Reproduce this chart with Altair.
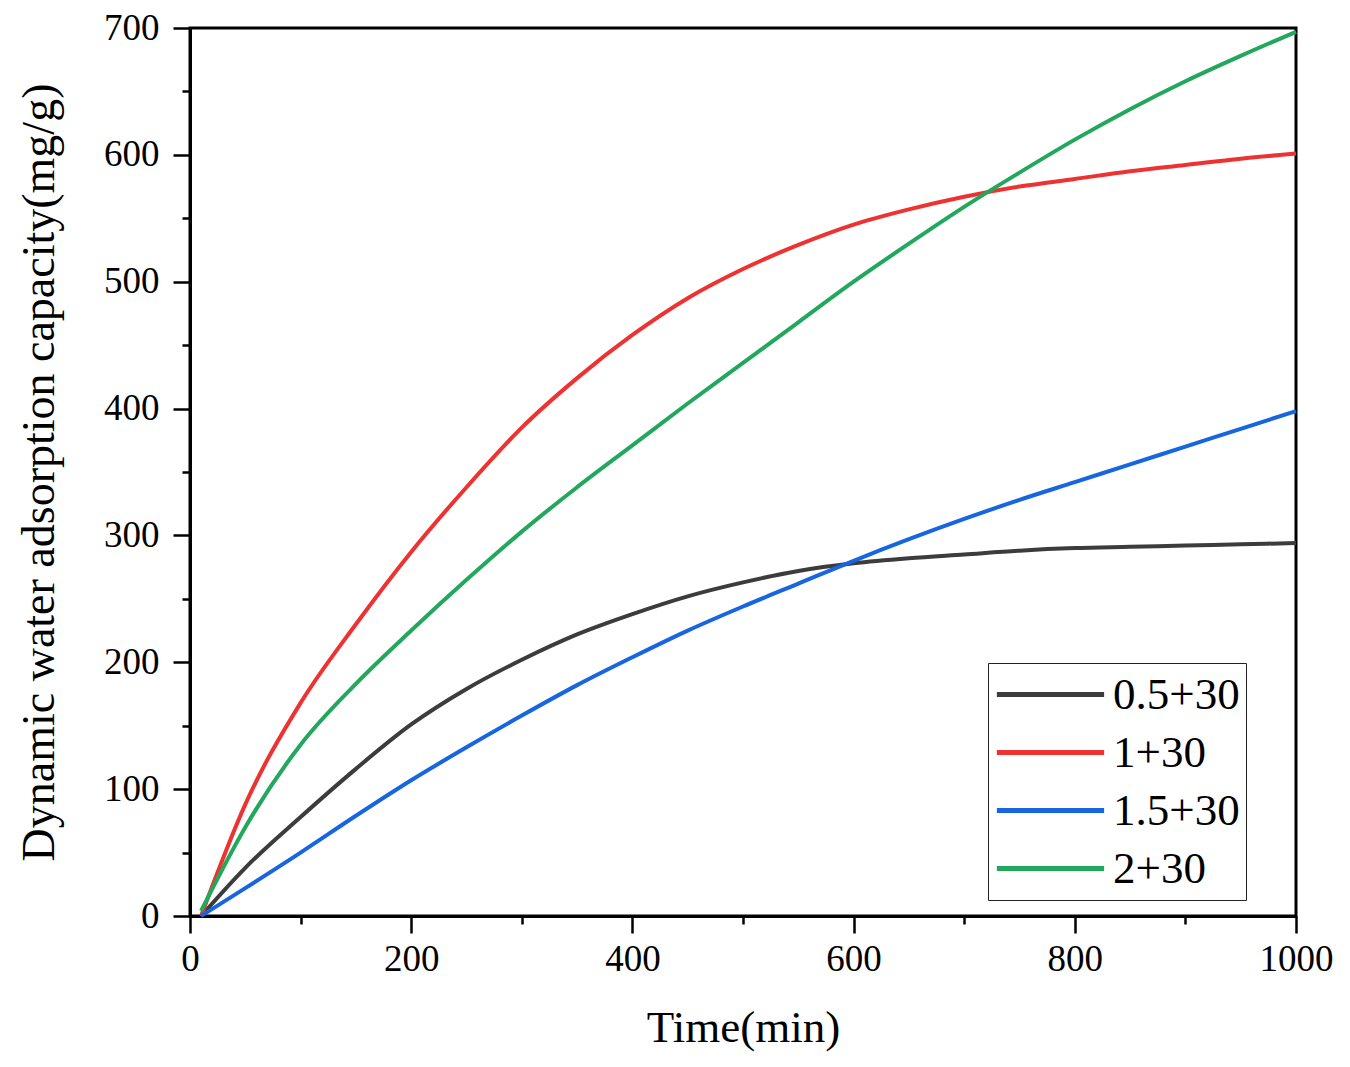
import altair as alt
import pandas as pd

times = [10, 50, 100, 150, 200, 250, 300, 350, 400, 450, 500, 550, 600, 650,
         700, 750, 800, 850, 900, 950, 1000]

s_05 = [0, 38, 78, 116, 151, 179, 202, 222, 238, 252, 263, 272, 278, 282,
        285, 288, 290, 291, 292, 293, 294]
s_1 = [0, 88, 168, 230, 287, 338, 385, 424, 458, 487, 510, 529, 545, 557,
       567, 575, 581, 587, 592, 597, 601]
s_15 = [0, 22, 50, 79, 107, 133, 158, 182, 204, 225, 244, 262, 280, 297,
        313, 328, 342, 356, 370, 384, 398]
s_2 = [4, 70, 135, 183, 225, 265, 303, 338, 371, 404, 436, 468, 500, 530,
       559, 586, 612, 636, 658, 678, 697]

series_names = ["0.5+30", "1+30", "1.5+30", "2+30"]
series_vals = [s_05, s_1, s_15, s_2]
colors = ["#3c3c3c", "#ee3131", "#1766e0", "#22a85c"]

rows = []
for name, vals in zip(series_names, series_vals):
    for t, v in zip(times, vals):
        rows.append({"Time": t, "Value": v, "Series": name})
df = pd.DataFrame(rows)

FONT = "Liberation Serif"

x_axis = alt.Axis(
    title="Time(min)",
    values=list(range(0, 1001, 100)),
    format="d",
    labelExpr="datum.value % 200 === 0 ? datum.label : ''",
    tickSize={"condition": {"test": "datum.value % 200 !== 0", "value": 8}, "value": 17},
    tickWidth=2.5, tickColor="black",
    domainWidth=3, domainColor="black",
    labelFont=FONT, labelFontSize=37, labelColor="black", labelPadding=8,
    labelFlush=False,
    titleFont=FONT, titleFontSize=45, titleFontWeight="normal", titleColor="black",
    titlePadding=28, grid=False,
)
y_axis = alt.Axis(
    title="Dynamic water adsorption capacity(mg/g)",
    values=list(range(0, 701, 50)),
    format="d",
    labelExpr="datum.value % 100 === 0 ? datum.label : ''",
    tickSize={"condition": {"test": "datum.value % 100 !== 0", "value": 8}, "value": 17},
    tickWidth=2.5, tickColor="black",
    domainWidth=3, domainColor="black",
    labelFont=FONT, labelFontSize=37, labelColor="black", labelPadding=14,
    labelFlush=False,
    titleFont=FONT, titleFontSize=46, titleFontWeight="normal", titleColor="black",
    titlePadding=40, grid=False,
)

legend = alt.Legend(
    title=None, orient="none", legendX=798, legendY=635,
    symbolType="stroke", symbolSize=11500, symbolStrokeWidth=5,
    labelFont=FONT, labelFontSize=45, labelColor="black", labelOffset=6,
    clipHeight=51, rowPadding=7,
    padding=6, strokeColor="#222222", fillColor="white",
)

chart = alt.Chart(df).mark_line(strokeWidth=4, interpolate="monotone").encode(
    x=alt.X("Time:Q", scale=alt.Scale(domain=[0, 1000], nice=False), axis=x_axis),
    y=alt.Y("Value:Q", scale=alt.Scale(domain=[0, 700], nice=False), axis=y_axis),
    color=alt.Color("Series:N", scale=alt.Scale(domain=series_names, range=colors),
                    legend=legend, sort=series_names),
    order=alt.Order("Time:Q"),
).properties(
    width=1106, height=888,
    background="white",
    autosize=alt.AutoSizeParams(type="none"),
    padding={"left": 182, "top": 20, "right": 46, "bottom": 143},
).configure_view(stroke="black", strokeWidth=3, strokeOpacity=1)

chart.save("out.html", embed_options={"renderer": "svg", "actions": False})
